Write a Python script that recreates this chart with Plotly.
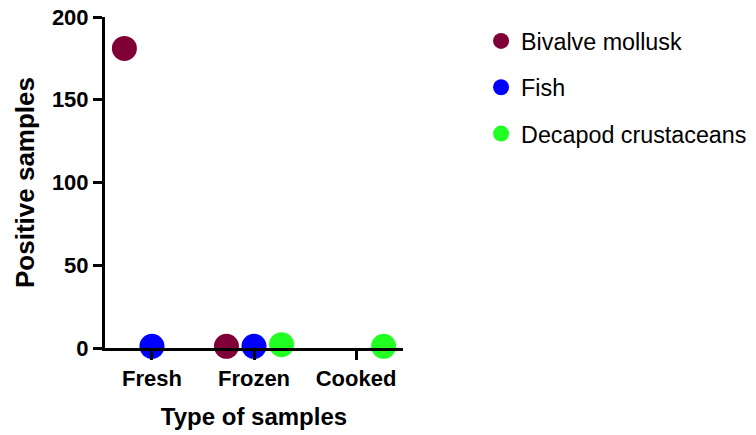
import plotly.graph_objects as go

categories = ["Fresh", "Frozen", "Cooked"]
series_names = ["Bivalve mollusk", "Fish", "Decapod crustaceans"]
bivalve = [181, 1, None]
fish = [1, 1, None]
decapod = [None, 2, 1]
colors = ["#7F0037", "#0000FF", "#22FF22"]
y_ticks = [0, 50, 100, 150, 200]

fig = go.Figure()
for i, (name, vals, col) in enumerate(zip(series_names, [bivalve, fish, decapod], colors)):
    fig.add_trace(go.Scatter(
        x=categories, y=vals, name=name, mode="markers",
        offsetgroup=str(i), legendgroup=str(i),
        marker=dict(size=25, color=col, line=dict(width=0)),
        cliponaxis=False,
    ))

fig.update_layout(
    width=756, height=435,
    margin=dict(l=105, r=353, t=17, b=87, autoexpand=False),
    plot_bgcolor="white", paper_bgcolor="white",
    scattermode="group", scattergap=0.19,
    font=dict(family="Liberation Sans, Arial, sans-serif", color="black"),
    showlegend=True,
    legend=dict(x=1.262, y=0.993, xanchor="left", yanchor="top",
                font=dict(size=23.3, color="black"),
                traceorder="grouped", tracegroupgap=13,
                itemsizing="trace"),
)
fig.update_xaxes(
    type="category", range=[-0.46, 2.46], automargin=False,
    showline=True, linewidth=3, linecolor="black",
    ticks="outside", ticklen=9, tickwidth=3, tickcolor="black",
    tickfont=dict(size=22, family="Liberation Sans, Arial", color="black", weight="bold"),
    showgrid=False, zeroline=False,
    title=dict(text="<b>Type of samples</b>", font=dict(size=24), standoff=18),
)
fig.update_yaxes(
    range=[0, 200], tickvals=y_ticks, automargin=False,
    showline=True, linewidth=3, linecolor="black",
    ticks="outside", ticklen=9, tickwidth=3, tickcolor="black",
    tickfont=dict(size=22, family="Liberation Sans, Arial", color="black", weight="bold"),
    showgrid=False, zeroline=False,
    title=dict(text="<b>Positive samples</b>", font=dict(size=26), standoff=10),
)
fig.write_html("out.html", post_script="document.body.style.margin='0';",
               config={"displayModeBar": False})
